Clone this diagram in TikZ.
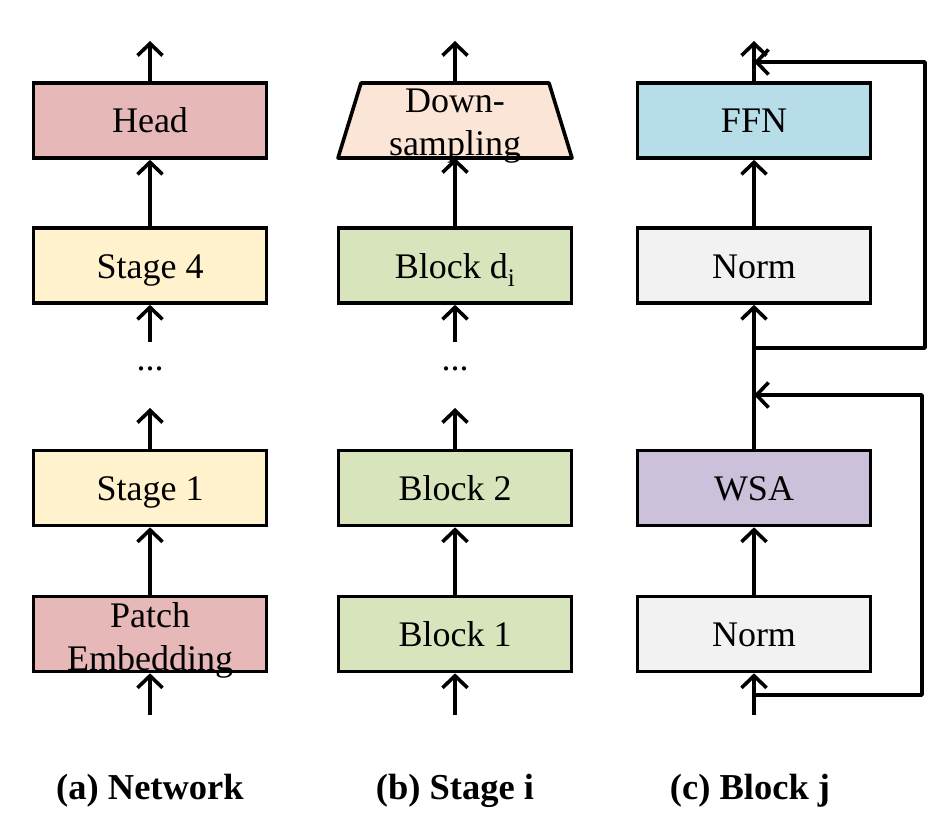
\documentclass[tikz,border=0pt]{standalone}
\usepackage{fontspec}
\setmainfont{Liberation Serif}
\usetikzlibrary{arrows.meta}
\definecolor{cHead}{HTML}{E6B9B8}
\definecolor{cStage}{HTML}{FFF2CC}
\definecolor{cDown}{HTML}{FBE5D6}
\definecolor{cBlock}{HTML}{D8E4BC}
\definecolor{cFFN}{HTML}{B7DEE8}
\definecolor{cNorm}{HTML}{F2F2F2}
\definecolor{cWSA}{HTML}{CCC1DA}
\begin{document}
\begin{tikzpicture}[x=1pt,y=-1pt,line width=3.6pt,
  box/.style={draw,line width=3.6pt,minimum width=233pt,minimum height=75pt,inner sep=0pt,
    font=\fontsize{36}{43}\selectfont,text height=25pt,text depth=0pt},
  txt/.style={font=\fontsize{36}{43}\selectfont,align=center,inner sep=0pt},
  arr/.style={-{Straight Barb[length=12pt,width=25pt]}},
  lbl/.style={font=\fontsize{36.5}{43}\selectfont\bfseries},
  dotsn/.style={font=\fontsize{36}{43}\selectfont,inner sep=0pt}]
\useasboundingbox (0,0) rectangle (944,829);
% column (a)
\node[box,fill=cHead] (head) at (150,120.5) {Head};
\node[box,fill=cStage] (s4) at (150,265.5) {Stage 4};
\node[box,fill=cStage] (s1) at (150,488) {Stage 1};
\node[box,fill=cHead] (pe) at (150,634) {};
\node[txt] (pet) at (150,640) {Patch\\Embedding};
\node[dotsn] (da) at (150,369) {...};
\coordinate (atop) at (150,41);
\coordinate (abot) at (150,715);
\coordinate (adu) at (150,342);
\coordinate (adl) at (150,408);
\draw[arr] (head.north) -- (atop);
\draw[arr] (s4.north) -- (head.south);
\draw[arr] (adu) -- (s4.south);
\draw[arr] (s1.north) -- (adl);
\draw[arr] (pe.north) -- (s1.south);
\draw[arr] (abot) -- (pe.south);
% column (b)
\draw[fill=cDown,line width=3.6pt,line join=round] (361,83) -- (549,83) -- (572,158) -- (338,158) -- cycle;
\coordinate (dtop) at (455,83);
\coordinate (dbot) at (455,158);
\node[txt] (down) at (455,126.5) {Down-\\sampling};
\node[box,fill=cBlock] (bd) at (455,265.5) {Block d\textsubscript{i}};
\node[box,fill=cBlock] (b2) at (455,488) {Block 2};
\node[box,fill=cBlock] (b1) at (455,634) {Block 1};
\node[dotsn] (db) at (455,369) {...};
\coordinate (btop) at (455,41);
\coordinate (bbot) at (455,715);
\coordinate (bdu) at (455,342);
\coordinate (bdl) at (455,408);
\draw[arr] (dtop) -- (btop);
\draw[arr] (bd.north) -- (dbot);
\draw[arr] (bdu) -- (bd.south);
\draw[arr] (b2.north) -- (bdl);
\draw[arr] (b1.north) -- (b2.south);
\draw[arr] (bbot) -- (b1.south);
% column (c)
\node[box,fill=cFFN] (ffn) at (754,120.5) {FFN};
\node[box,fill=cNorm] (n2) at (754,265.5) {Norm};
\node[box,fill=cWSA] (wsa) at (754,488) {WSA};
\node[box,fill=cNorm] (n1) at (754,634) {Norm};
\coordinate (ctop) at (754,41);
\coordinate (cbot) at (754,715);
\coordinate (r1s) at (754,695);
\coordinate (r1e) at (754,395);
\coordinate (r2s) at (754,348);
\coordinate (r2e) at (754,62);
\draw[arr] (ffn.north) -- (ctop);
\draw[arr] (n2.north) -- (ffn.south);
\draw[arr] (wsa.north) -- (n2.south);
\draw[arr] (n1.north) -- (wsa.south);
\draw[arr] (cbot) -- (n1.south);
\draw[arr,line join=round] (r1s) -- (922,695) -- (922,395) -- (r1e);
\draw[arr,line join=round] (r2s) -- (925,348) -- (925,62) -- (r2e);
% labels
\node[lbl] (la) at (150,791) {(a) Network};
\node[lbl] (lb) at (455,791) {(b) Stage i};
\node[lbl] (lc) at (750,791) {(c) Block j};
\end{tikzpicture}
\end{document}
